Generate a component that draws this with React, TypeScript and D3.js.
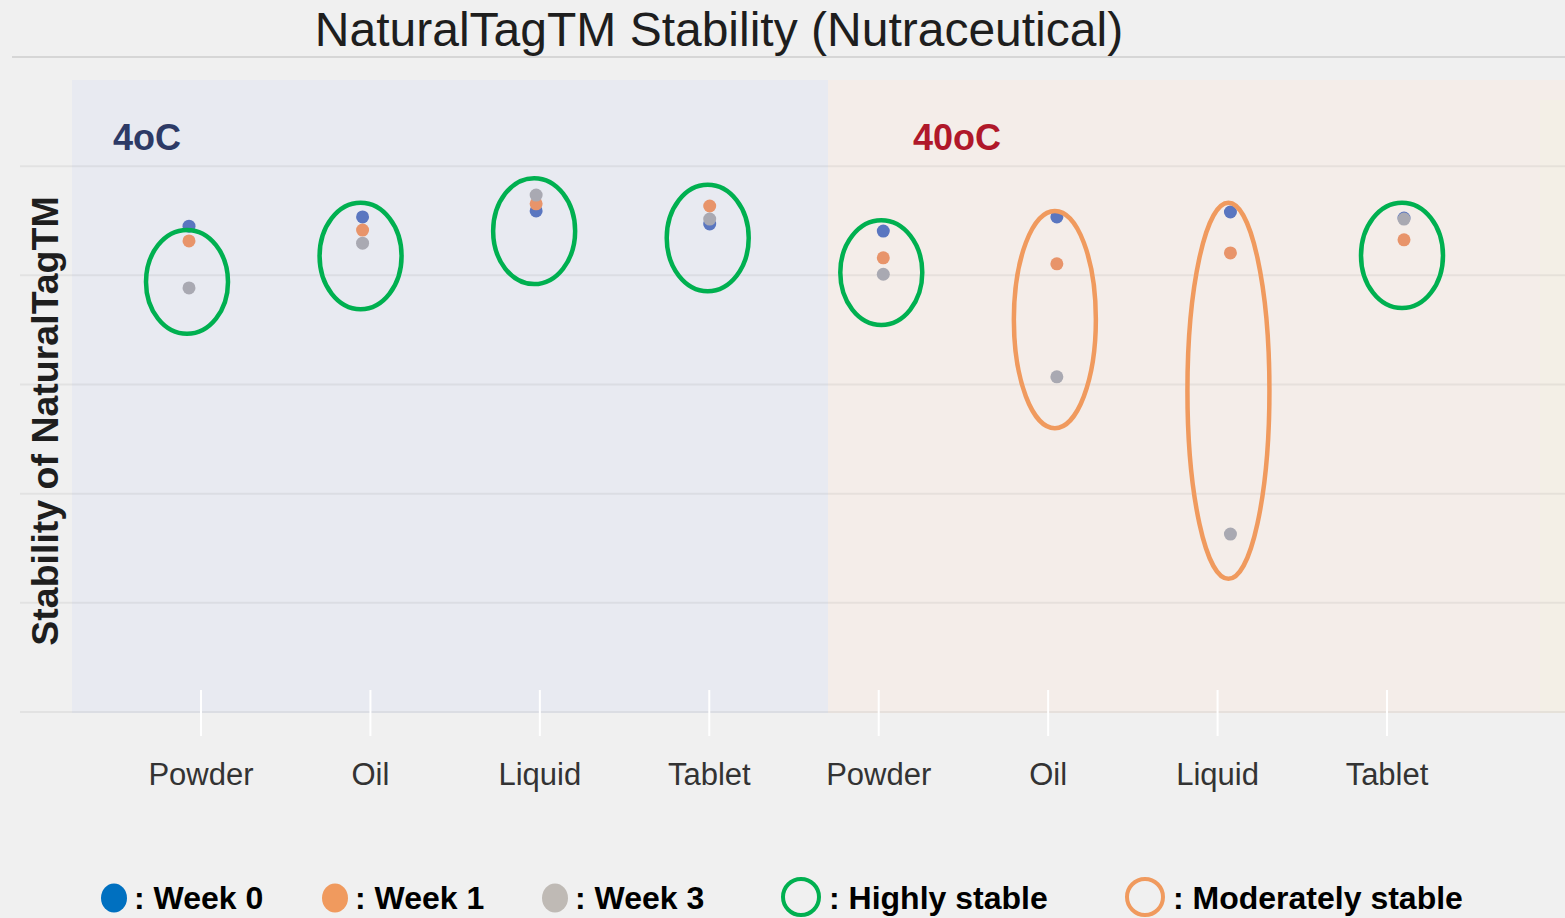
import React, { useEffect, useRef } from 'react'
import * as d3 from 'd3'

// categories along the x axis (two temperature panels x four forms)
const conditions = ['4oC', '40oC']
const forms = ['Powder', 'Oil', 'Liquid', 'Tablet']
const categories = conditions.flatMap(c => forms.map(f => `${c}|${f}`))

// stability readings per week (axis 0-120)
const week0 = [89.0, 90.7, 91.8, 89.4, 88.1, 90.7, 91.6, 90.5]
const week1 = [86.3, 88.3, 93.1, 92.7, 83.2, 82.1, 84.1, 86.5]
const week3 = [77.7, 85.9, 94.7, 90.3, 80.2, 61.4, 32.6, 90.3]

// annotation rings: class + vertical extent in value units
const ringClass = ['high', 'high', 'high', 'high', 'high', 'moderate', 'moderate', 'high']
const ringTop = [88.3, 93.3, 97.8, 96.6, 90.1, 91.8, 93.3, 93.3]
const ringBottom = [69.3, 73.8, 78.4, 77.1, 70.9, 52.0, 24.4, 74.0]

const yTicks = [0, 20, 40, 60, 80, 100, 120]

const seriesNames = ['Week 0', 'Week 1', 'Week 3']
const FONT = '"Liberation Sans", Arial, sans-serif'

export default function App() {
  const svgRef = useRef<SVGSVGElement | null>(null)

  useEffect(() => {
    const width = 1565, height = 918
    const svg = d3.select(svgRef.current).attr('width', width).attr('height', height)
    svg.selectAll('*').remove()

    svg.append('rect').attr('width', width).attr('height', height).attr('fill', '#f0f0f0')

    const y = d3.scaleLinear().domain([0, 120]).range([712, 57])
    const x = d3.scalePoint<string>().domain(categories).range([189, 1404])
    const xAxis = d3.scalePoint<string>().domain(categories).range([201, 1387])

    const blur = svg.append('defs').append('filter').attr('id', 'soft')
    blur.append('feGaussianBlur').attr('stdDeviation', 0.7)

    // panels
    svg.append('rect').attr('x', 72).attr('y', 80).attr('width', 756).attr('height', 633).attr('fill', '#e8eaf1')
    svg.append('rect').attr('x', 828).attr('y', 80).attr('width', 737).attr('height', 633).attr('fill', '#f4ede9')
    svg.append('rect').attr('x', 1540).attr('y', 100).attr('width', 25).attr('height', 613).attr('fill', '#f3efe6')

    // gridlines
    svg.append('g').selectAll('line').data(yTicks).join('line')
      .attr('x1', d => d === 120 ? 12 : 20).attr('x2', width)
      .attr('y1', d => y(d)).attr('y2', d => y(d))
      .attr('stroke', d => d === 120 ? '#d6d6d6' : 'rgba(0,0,0,0.055)')
      .attr('stroke-width', 2)

    // x ticks (white) + labels
    const ax = svg.append('g')
    ax.selectAll('line').data(categories).join('line')
      .attr('x1', d => xAxis(d)!).attr('x2', d => xAxis(d)!)
      .attr('y1', 690).attr('y2', 736)
      .attr('stroke', '#ffffff').attr('stroke-width', 2)
    ax.selectAll('text').data(categories).join('text')
      .attr('x', d => xAxis(d)!).attr('y', 785)
      .attr('text-anchor', 'middle').attr('font-family', FONT).attr('font-size', 31)
      .attr('fill', '#333333')
      .text(d => d.split('|')[1])

    // title
    svg.append('text').attr('x', 719).attr('y', 46).attr('text-anchor', 'middle')
      .attr('font-family', FONT).attr('font-size', 48).attr('fill', '#1e1e1e')
      .text('NaturalTagTM Stability (Nutraceutical)')

    // y axis label
    svg.append('text').attr('transform', 'translate(58,421) rotate(-90)')
      .attr('text-anchor', 'middle').attr('font-family', FONT).attr('font-size', 37.5)
      .attr('font-weight', 'bold').attr('fill', '#1e1e1e')
      .text('Stability of NaturalTagTM')

    // panel labels
    svg.append('text').attr('x', 113).attr('y', 150).attr('font-family', FONT).attr('font-size', 36)
      .attr('font-weight', 'bold').attr('fill', '#2d3a66').text(conditions[0])
    svg.append('text').attr('x', 913).attr('y', 150).attr('font-family', FONT).attr('font-size', 36)
      .attr('font-weight', 'bold').attr('fill', '#b0182a').text(conditions[1])

    // points
    const pointColors = ['#5a76c0', '#e8946a', '#a9a9b2']
    const series = [week0, week1, week3]
    const pts = svg.append('g').attr('filter', 'url(#soft)')
    series.forEach((vals, si) => {
      pts.append('g').selectAll('circle').data(categories).join('circle')
        .attr('cx', d => x(d)!).attr('cy', (d, i) => y(vals[i]))
        .attr('r', 6.5).attr('fill', pointColors[si])
    })

    // rings
    const ringColor = (c: string) => c === 'high' ? '#00b050' : '#f09a5e'
    svg.append('g').selectAll('ellipse').data(categories).join('ellipse')
      .attr('cx', d => x(d)! - 2)
      .attr('cy', (d, i) => (y(ringTop[i]) + y(ringBottom[i])) / 2)
      .attr('rx', 41)
      .attr('ry', (d, i) => (y(ringBottom[i]) - y(ringTop[i])) / 2)
      .attr('fill', 'none').attr('stroke', (d, i) => ringColor(ringClass[i]))
      .attr('stroke-width', 4.5)

    // legend
    const lg = svg.append('g').attr('font-family', FONT).attr('font-size', 32).attr('font-weight', 'bold').attr('fill', '#000')
    const legendFill = ['#0070c0', '#f09a5e', '#bfbab5']
    const fillX = [114, 335, 555]
    seriesNames.forEach((s, i) => {
      lg.append('ellipse').attr('cx', fillX[i]).attr('cy', 898).attr('rx', 13).attr('ry', 14.5).attr('fill', legendFill[i])
      lg.append('text').attr('x', fillX[i] + 20).attr('y', 909).text(`: ${s}`)
    })
    const ringItems = [['high', 'Highly stable', 801], ['moderate', 'Moderately stable', 1145]] as const
    ringItems.forEach(([c, label, cx]) => {
      lg.append('ellipse').attr('cx', cx).attr('cy', 897).attr('rx', 18).attr('ry', 18)
        .attr('fill', 'none').attr('stroke', ringColor(c)).attr('stroke-width', 4)
      lg.append('text').attr('x', cx + 28).attr('y', 909).text(`: ${label}`)
    })
  }, [])

  return (
    <div style={{ position: 'absolute', left: 0, top: 0 }}>
      <svg ref={svgRef} style={{ display: 'block' }}></svg>
    </div>
  )
}
